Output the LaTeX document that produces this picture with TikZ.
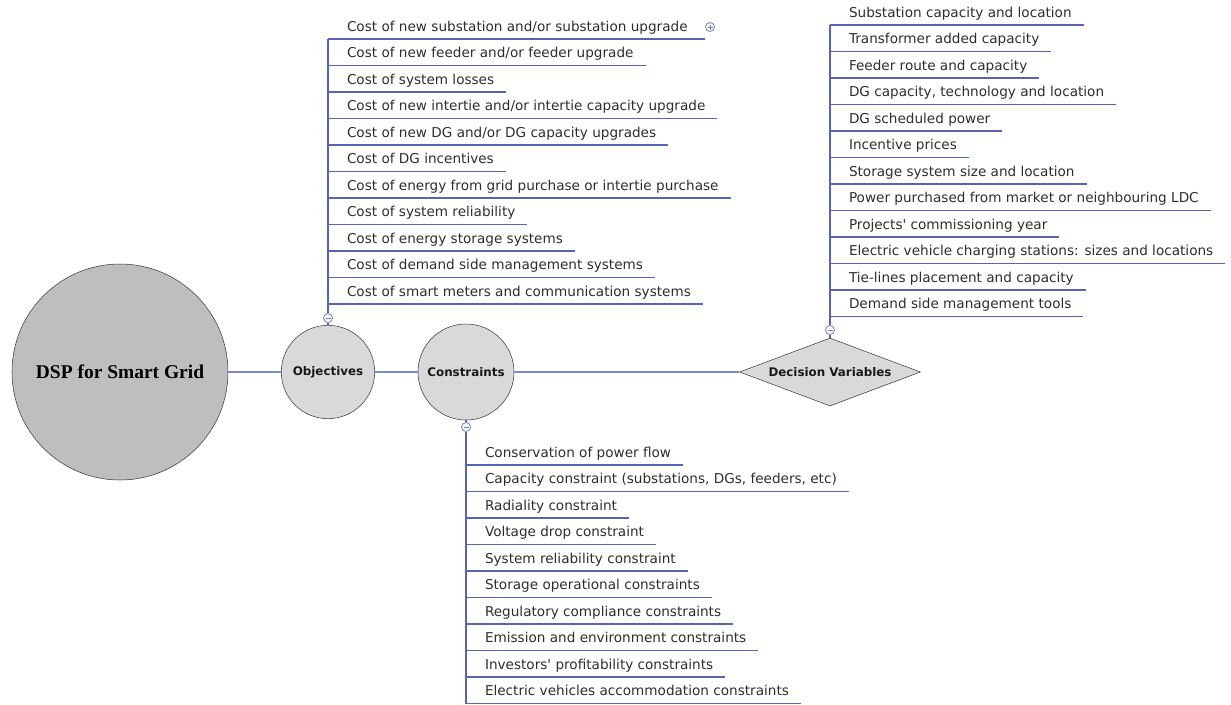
\documentclass[tikz,border=0pt]{standalone}
\usepackage{fontspec}
\setmainfont{DejaVu Sans}[Ligatures=TeXOff]
\newfontfamily\titlefont{Liberation Serif}
\usetikzlibrary{positioning}
\usetikzlibrary{shapes.geometric}
\definecolor{MapBlue}{RGB}{84,100,184}
\definecolor{LinkBlue}{RGB}{122,138,204}
\definecolor{FoldBlue}{RGB}{110,128,210}
\definecolor{TopGray}{RGB}{190,190,190}
\definecolor{SubGray}{RGB}{217,217,217}
\definecolor{EdgeGray}{RGB}{60,60,60}
\definecolor{LeafText}{RGB}{45,45,45}
\tikzset{
	link/.style={draw=LinkBlue, line width=1.1pt},
	twig/.style={draw=MapBlue, line width=0.8pt},
	topic/.style={circle, draw=EdgeGray, fill=TopGray, inner sep=0pt, minimum size=162pt,
		font=\titlefont\bfseries\fontsize{14.6}{16}\selectfont},
	sub/.style={circle, draw=EdgeGray, fill=SubGray, inner sep=0pt, text=black!90,
		font=\bfseries\fontsize{8.9}{11}\selectfont},
	leaf/.style={anchor=south west, inner xsep=0pt, inner ysep=0pt, outer sep=0pt,
		text height=13.875pt, text depth=6pt, text=LeafText,
		font=\fontsize{10.2}{12}\selectfont,
		execute at begin node=\hspace*{14.25pt}, execute at end node=\hspace*{9pt}},
	under/.style={below=0pt of #1.south west, anchor=north west},
	fold/.style={circle, draw=FoldBlue, fill=white, inner sep=0pt, minimum size=6.75pt, line width=0.6pt,
		path picture={\draw[FoldBlue, line width=0.6pt]
			([xshift=1.5pt]path picture bounding box.west) -- ([xshift=-1.5pt]path picture bounding box.east);}},
	unfold/.style={fold, draw=FoldBlue!70!gray,
		path picture={\draw[FoldBlue!70!gray, line width=0.6pt]
			([xshift=1.5pt]path picture bounding box.west) -- ([xshift=-1.5pt]path picture bounding box.east)
			([yshift=-1.5pt]path picture bounding box.north) -- ([yshift=1.5pt]path picture bounding box.south);}}
}
\begin{document}
\begin{tikzpicture}[x=0.75pt, y=-0.75pt]
	\useasboundingbox (0,0) rectangle (1231,704);
	% main chain
	\node[topic] (dsp) at (120,372) {DSP for Smart Grid};
	\node[sub, minimum size=70pt] (obj) at (328,372) {Objectives};
	\node[sub, minimum size=72pt] (con) at (466,372) {Constraints};
	\node[sub, diamond, shape aspect=2.66, minimum width=135.75pt, minimum height=51pt] (dv) at (830,372)
	{Decision Variables};
	\node[fold] (objfold) at (328,318) {};
	\node[fold] (confold) at (466,427) {};
	\node[fold] (dvfold) at (830,330) {};
	% objectives
	\node[leaf] (o1) at (328,39) {Cost of new substation and/or substation upgrade};
	\node[leaf, under=o1] (o2) {Cost of new feeder and/or feeder upgrade};
	\node[leaf, under=o2] (o3) {Cost of system losses};
	\node[leaf, under=o3] (o4) {Cost of new intertie and/or intertie capacity upgrade};
	\node[leaf, under=o4] (o5) {Cost of new DG and/or DG capacity upgrades};
	\node[leaf, under=o5] (o6) {Cost of DG incentives};
	\node[leaf, under=o6] (o7) {Cost of energy from grid purchase or intertie purchase};
	\node[leaf, under=o7] (o8) {Cost of system reliability};
	\node[leaf, under=o8] (o9) {Cost of energy storage systems};
	\node[leaf, under=o9] (o10) {Cost of demand side management systems};
	\node[leaf, under=o10] (o11) {Cost of smart meters and communication systems};
	\node[unfold] (oplus) at (710,27) {};
	% decision variables
	\node[leaf] (d1) at (830,25) {Substation capacity and location};
	\node[leaf, under=d1] (d2) {Transformer added capacity};
	\node[leaf, under=d2] (d3) {Feeder route and capacity};
	\node[leaf, under=d3] (d4) {DG capacity, technology and location};
	\node[leaf, under=d4] (d5) {DG scheduled power};
	\node[leaf, under=d5] (d6) {Incentive prices};
	\node[leaf, under=d6] (d7) {Storage system size and location};
	\node[leaf, under=d7] (d8) {Power purchased from market or neighbouring LDC};
	\node[leaf, under=d8] (d9) {Projects' commissioning year};
	\node[leaf, under=d9] (d10) {Electric vehicle charging stations: sizes and locations};
	\node[leaf, under=d10] (d11) {Tie-lines placement and capacity};
	\node[leaf, under=d11] (d12) {Demand side management tools};
	% constraints
	\node[leaf] (c1) at (466,465) {Conservation of power flow};
	\node[leaf, under=c1] (c2) {Capacity constraint (substations, DGs, feeders, etc)};
	\node[leaf, under=c2] (c3) {Radiality constraint};
	\node[leaf, under=c3] (c4) {Voltage drop constraint};
	\node[leaf, under=c4] (c5) {System reliability constraint};
	\node[leaf, under=c5] (c6) {Storage operational constraints};
	\node[leaf, under=c6] (c7) {Regulatory compliance constraints};
	\node[leaf, under=c7] (c8) {Emission and environment constraints};
	\node[leaf, under=c8] (c9) {Investors' profitability constraints};
	\node[leaf, under=c9] (c10) {Electric vehicles accommodation constraints};
	% connectors
	\draw[link] (dsp) -- (obj);
	\draw[link] (obj) -- (con);
	\draw[link] (con) -- (dv);
	\draw[twig] (o1.south west) -- (objfold);
	\draw[twig] (objfold) -- (obj);
	\draw[twig] (d1.south west) -- (dvfold);
	\draw[twig] (dvfold) -- (dv);
	\draw[twig] (con) -- (confold);
	\draw[twig] (confold) -- (c10.south west);
	\draw[twig] (o1.south west) -- (oplus.west |- o1.south);
	\foreach \i in {2,...,11} \draw[twig] (o\i.south west) -- (o\i.south east);
	\foreach \i in {1,...,12} \draw[twig] (d\i.south west) -- (d\i.south east);
	\foreach \i in {1,...,10} \draw[twig] (c\i.south west) -- (c\i.south east);
\end{tikzpicture}
\end{document}
